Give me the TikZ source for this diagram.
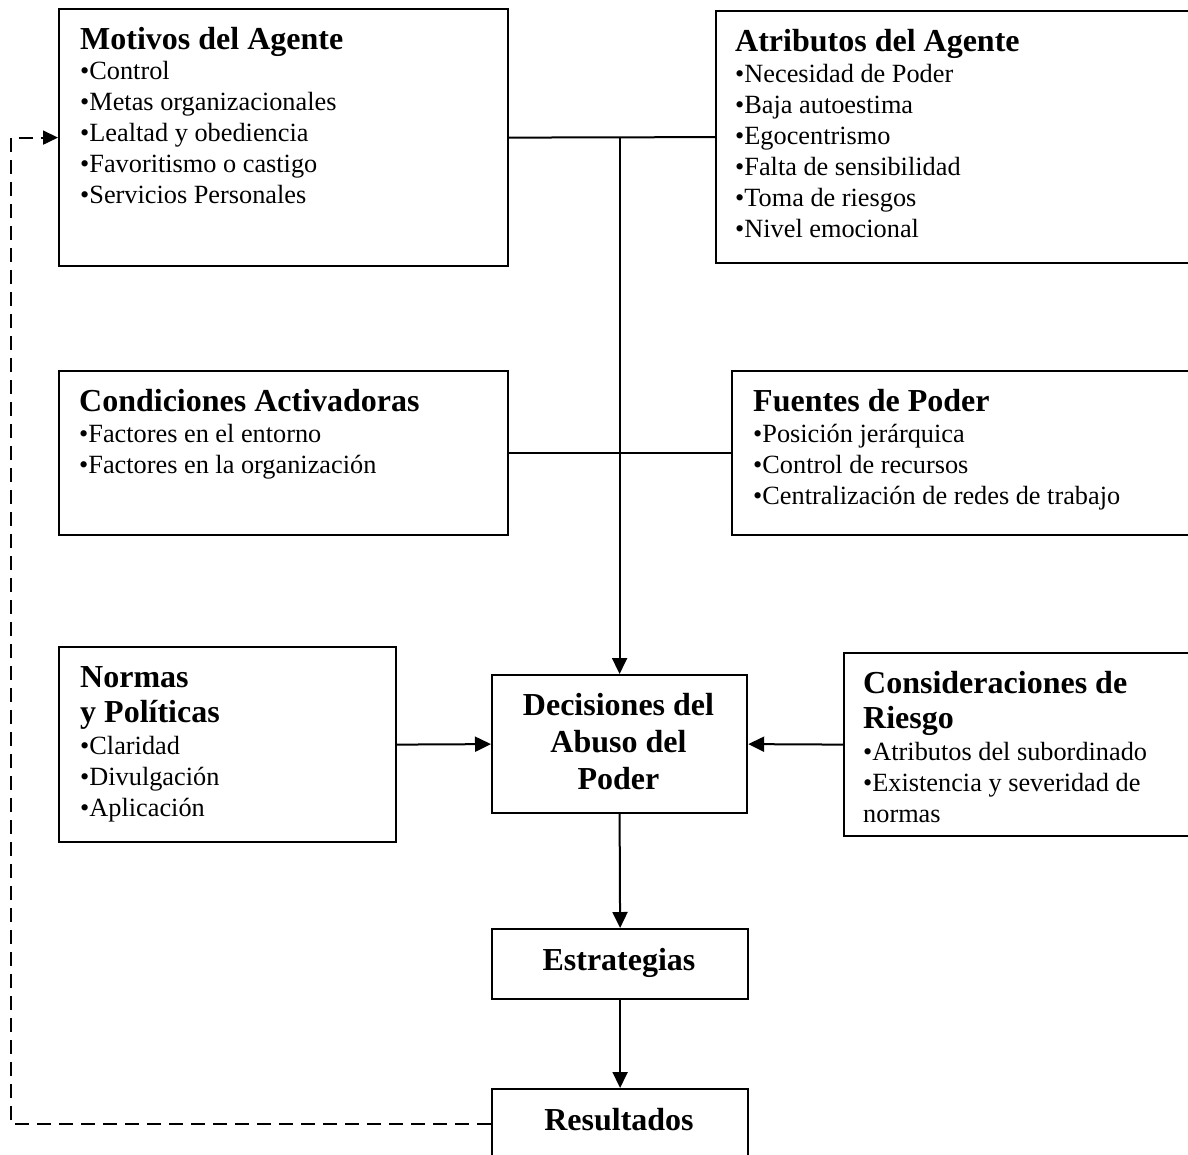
\documentclass[tikz,border=0pt]{standalone}
\usepackage{fontspec}
\setmainfont{Liberation Serif}
\usetikzlibrary{arrows.meta}

% heading and bullet-list fonts
\newcommand\hdfont{\fontsize{32}{35}\selectfont\bfseries}
\newcommand\bdfont{\fontsize{26.3}{31}\selectfont}
% #1 heading, #2 extra gap before the list, #3 list lines
\newcommand\panel[3]{\parbox[t]{440pt}{\raggedright\lineskiplimit=-\maxdimen\lineskip=0pt
  {\hdfont #1\par}\vspace{#2}{\bdfont #3\par}}}
\newcommand\centerpanel[2]{\parbox[t]{250pt}{\centering\lineskiplimit=-\maxdimen\lineskip=0pt
  \fontsize{32}{#1}\selectfont\bfseries #2\par}}

\tikzset{
  frame/.style={draw, line width=2.2pt, inner sep=0pt, anchor=north west},
  label/.style={inner sep=0pt, anchor=base west},
  clabel/.style={inner sep=0pt, anchor=base},
  link/.style={line width=2pt},
  flow/.style={line width=2pt, -{Triangle[length=16pt,width=15pt]}},
  feedback/.style={line width=1.8pt, dash pattern=on 14pt off 8pt, -{Triangle[length=15pt,width=14pt]}}
}

\begin{document}
\begin{tikzpicture}[x=1pt, y=-1pt]
\useasboundingbox (0,0) rectangle (1188,1154);
\clip (0,0) rectangle (1188,1154);
\fill[white] (0,0) rectangle (1188,1154);

% frames
\node[frame, minimum width=449pt, minimum height=257pt] (mot) at (58,8) {};
\node[frame, minimum width=485pt, minimum height=252pt] (atr) at (715,10) {};
\node[frame, minimum width=449pt, minimum height=164pt] (con) at (58,370) {};
\node[frame, minimum width=469pt, minimum height=164pt] (fue) at (731,370) {};
\node[frame, minimum width=337pt, minimum height=195pt] (nor) at (58,646) {};
\node[frame, minimum width=255pt, minimum height=138pt] (dec) at (491,674) {};
\node[frame, minimum width=357pt, minimum height=183pt] (cri) at (843,652) {};
\node[frame, minimum width=256pt, minimum height=70pt] (est) at (491,928) {};
\node[frame, minimum width=256pt, minimum height=70pt] (res) at (491,1088) {};

% texts
\node[label] (motT) at (80,49) {\panel{Motivos del Agente}{-1pt}{•Control\\•Metas organizacionales\\•Lealtad y obediencia\\•Favoritismo o castigo\\•Servicios Personales}};
\node[label] (atrT) at (735,51) {\panel{Atributos del Agente}{0pt}{•Necesidad de Poder\\•Baja autoestima\\•Egocentrismo\\•Falta de sensibilidad\\•Toma de riesgos\\•Nivel emocional}};
\node[label] (conT) at (79,411) {\panel{Condiciones Activadoras}{0pt}{•Factores en el entorno\\•Factores en la organización}};
\node[label] (fueT) at (753,411) {\panel{Fuentes de Poder}{0pt}{•Posición jerárquica\\•Control de recursos\\•Centralización de redes de trabajo}};
\node[label] (norT) at (80,687) {\panel{Normas\\y Políticas}{1.5pt}{•Claridad\\•Divulgación\\•Aplicación}};
\node[label] (criT) at (863,693) {\panel{Consideraciones de\\Riesgo}{1pt}{•Atributos del subordinado\\•Existencia y severidad de\\normas}};
\node[clabel] (decT) at (618.5,715) {\centerpanel{37}{Decisiones del\\Abuso del\\Poder}};
\node[clabel] (estT) at (619,970) {\centerpanel{37}{Estrategias}};
\node[clabel] (resT) at (619,1130) {\centerpanel{37}{Resultados}};

% connectors
\coordinate (fbx) at (11,0);
\draw[link] (mot.east) -- (atr.west);
\draw[link] (con.east) -- (fue.west);
\draw[flow] (mot.east -| dec.north) -- (dec.north);
\draw[flow] (nor.east) -- (dec.west);
\draw[flow] (cri.west) -- (dec.east);
\draw[flow] (dec.south) -- (est.north);
\draw[flow] (est.south) -- (res.north);
\draw[feedback] (res.west) -- (res.west -| fbx) |- (mot.west);
\end{tikzpicture}
\end{document}
